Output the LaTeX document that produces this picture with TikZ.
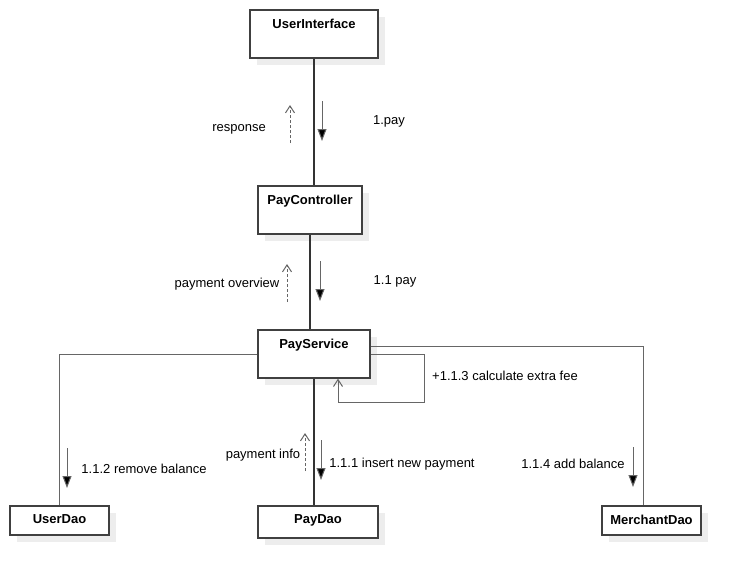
\documentclass[tikz,border=0pt]{standalone}
\usepackage{fontspec}
\setmainfont{Liberation Sans}
\usetikzlibrary{arrows.meta,shadows}
\tikzset{
	cls/.style={draw=black!75, line width=1.2pt, fill=white, inner sep=0pt,
		drop shadow={shadow xshift=7pt, shadow yshift=-7pt, fill=black!7, opacity=1}},
	title/.style={anchor=north, inner sep=0pt, yshift=-9pt, font=\bfseries\fontsize{13}{15}\selectfont},
	txt/.style={font=\fontsize{13}{15}\selectfont, inner sep=1pt, yshift=-2pt},
	link/.style={line width=1.6pt, black!80},
	side/.style={line width=1pt, black!60},
	call/.style={-{Triangle[length=12pt,width=9pt,fill=black]}, line width=1pt, black!60},
	reply/.style={densely dashed, -{Straight Barb[length=7pt,width=9pt]}, line width=1pt, black!60}
}
\begin{document}
\begin{tikzpicture}[x=1pt, y=-1pt]
	\useasboundingbox (0,0) rectangle (741,578);
	\node[cls, minimum width=128pt, minimum height=48pt, label={[title]north:UserInterface}] (ui) at (314,34) {};
	\node[cls, minimum width=104pt, minimum height=48pt, label={[title]north:PayController}] (pc) at (310,210) {};
	\node[cls, minimum width=112pt, minimum height=48pt, label={[title]north:PayService}] (ps) at (314,354) {};
	\node[cls, minimum width=99pt, minimum height=29pt, label={[title]north:UserDao}] (ud) at (59.5,520.5) {};
	\node[cls, minimum width=120pt, minimum height=32pt, label={[title]north:PayDao}] (pd) at (318,522) {};
	\node[cls, minimum width=99pt, minimum height=29pt, label={[title]north:MerchantDao}] (md) at (651.5,520.5) {};

	\draw[link] (ui.south) -- (ui.south |- pc.north);
	\draw[link] (pc.south) -- (pc.south |- ps.north);
	\draw[link] (ps.south) -- (ps.south |- pd.north);
	\draw[side] (ps.west) -| (ud.north);
	\draw[side] ([yshift=8pt]ps.east) -| ([xshift=-8.5pt]md.north);
	\draw[side, -{Straight Barb[length=7pt,width=9pt]}] (ps.east) -- ++(54,0) -- ++(0,48) -| ([xshift=24pt]ps.south);

	\draw[call] (322,101) -- ++(0,40);
	\draw[reply] (290,143) -- ++(0,-38);
	\node[txt] (pay) at (389,119) {1.pay};
	\node[txt] (resp) at (239,127) {response};

	\draw[call] (320,261) -- ++(0,40);
	\draw[reply] (287,302) -- ++(0,-38);
	\node[txt] (pay2) at (395,279) {1.1 pay};
	\node[txt] (over) at (227,282) {payment overview};

	\node[txt] (fee) at (505,374) {+1.1.3 calculate extra fee};

	\draw[call] (67,448) -- ++(0,40);
	\node[txt] (remove) at (144,467) {1.1.2 remove balance};
	\draw[reply] (305,471) -- ++(0,-38);
	\node[txt] (info) at (263,453) {payment info};
	\draw[call] (321,440) -- ++(0,40);
	\node[txt] (insert) at (402,462) {1.1.1 insert new payment};
	\draw[call] (633,447) -- ++(0,40);
	\node[txt] (add) at (573,462) {1.1.4 add balance};
\end{tikzpicture}
\end{document}
